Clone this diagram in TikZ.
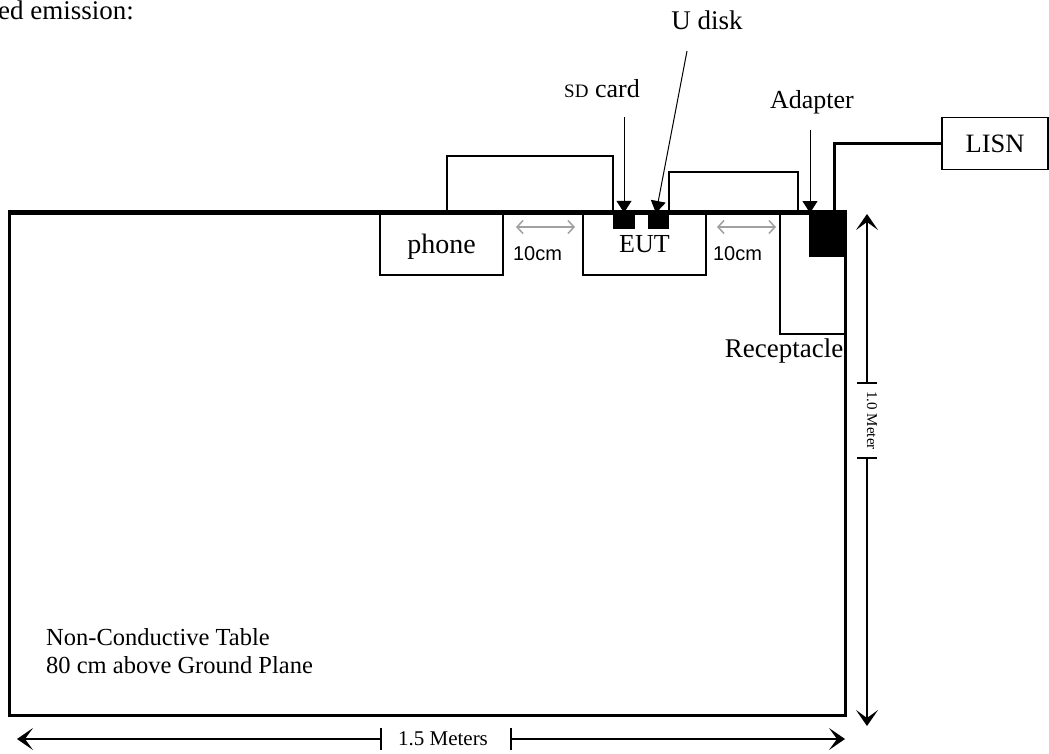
\documentclass[tikz,border=0pt]{standalone}
\usepackage{fontspec}
\setmainfont{Liberation Serif}
\newfontfamily\arialf{Liberation Sans}
\usetikzlibrary{arrows.meta}
\definecolor{gapgray}{HTML}{A0A0A0}
\newcommand{\fsz}[1]{\fontsize{#1}{#1}\selectfont}
\tikzset{
  lbl/.style={inner sep=0pt, font=\fsz{26}},
  box/.style={draw, line width=1.5pt, inner sep=0pt, text depth=0pt, font=\fsz{26}},
  tablebox/.style={draw, line width=3pt, inner sep=0pt},
  blk/.style={fill=black, draw=none, inner sep=0pt},
  cable/.style={line width=1.5pt},
  pcable/.style={line width=3pt},
  ptr/.style={line width=1pt, -{Triangle[length=12pt,width=15pt]}},
  dimline/.style={line width=1.6pt, -{Stealth[length=16pt,width=22pt,inset=8pt]}},
  tick/.style={line width=1.5pt},
  gap/.style={gapgray, line width=1.5pt, {Straight Barb[length=6pt,width=13pt]}-{Straight Barb[length=6pt,width=13pt]}},
  small10/.style={inner sep=0pt, font=\arialf\fsz{20}}
}
\begin{document}
\begin{tikzpicture}[x=1pt,y=-1pt]
\useasboundingbox (0,0) rectangle (1049,753);
% title (cut off at left, as in the reference)
\node[lbl, anchor=base east, font=\fsz{27}] (title) at (134,19) {Conducted emission:};
% table
\node[tablebox, minimum width=836pt, minimum height=502pt] (table) at (427.5,464) {};
% devices
\node[box, minimum width=123pt, minimum height=62pt, font=\fsz{28}] (phone) at (441.5,244) {phone};
\node[box, minimum width=123pt, minimum height=62pt] (eut) at (644.5,244) {EUT};
\node[box, minimum width=66pt, minimum height=121pt] (rec) at (813,273.5) {};
\node[box, minimum width=106pt, minimum height=52pt, font=\fsz{26.5}] (lisn) at (995,143.5) {LISN};
\node[blk, minimum width=22pt, minimum height=16pt] (sd) at (624,221) {};
\node[blk, minimum width=21pt, minimum height=16pt] (ud) at (658.5,221) {};
\node[blk, minimum width=38pt, minimum height=45pt] (adapter) at (827.5,234.5) {};
% cables
\coordinate (c1a) at (447,213);
\coordinate (c1b) at (613,213);
\draw[cable] (c1a) -- (447,156) -- (613,156) -- (c1b);
\coordinate (c2a) at (669,213);
\coordinate (c2b) at (798,213);
\draw[cable] (c2a) -- (669,172) -- (798,172) -- (c2b);
\coordinate (c3a) at (834,212);
\draw[pcable] (c3a) |- (lisn.west);
\draw[line width=3pt] (table.north west) -- (table.north east);
% labels + pointers
\node[lbl, anchor=base] (sdlbl) at (602,97) {{\fsz{19}SD} card};
\node[lbl, anchor=base, font=\fsz{27}] (udlbl) at (707,29) {U disk};
\node[lbl, anchor=base] (adlbl) at (812,108) {Adapter};
\coordinate (sdtop) at (624,117);
\coordinate (udtop) at (687,51);
\coordinate (adtop) at (810,130);
\coordinate (adtip) at (810,213);
\coordinate (udtip) at (656,213);
\draw[ptr] (sdtop) -- (sd.north);
\draw[ptr] (udtop) -- (udtip);
\draw[ptr] (adtop) -- (adtip);
\node[lbl, anchor=base, font=\fsz{27}] (reclbl) at (784,357) {Receptacle};
% 10cm gaps
\coordinate (g1a) at (516,227); \coordinate (g1b) at (575,227);
\coordinate (g2a) at (717,227); \coordinate (g2b) at (776,227);
\draw[gap] (g1a) -- (g1b);
\draw[gap] (g2a) -- (g2b);
\node[small10, anchor=base] (d1) at (537.5,260) {10cm};
\node[small10, anchor=base] (d2) at (737.5,260) {10cm};
% table text
\node[lbl, anchor=base west, font=\fsz{24.5}] (tt1) at (46,645) {Non-Conductive Table};
\node[lbl, anchor=base west, font=\fsz{24.5}] (tt2) at (46,673) {80 cm above Ground Plane};
% vertical dimension
\coordinate (vt1) at (867,383); \coordinate (vt2) at (867,458);
\coordinate (vtop) at (867,214); \coordinate (vbot) at (867,726);
\draw[dimline] (vt1) -- (vtop);
\draw[dimline] (vt2) -- (vbot);
\draw[tick] (857,383) -- (877,383);
\draw[tick] (857,458) -- (877,458);
\node[inner sep=0pt, rotate=-90, font=\fsz{15}] (vlbl) at (872,420.5) {1.0 Meter};
% horizontal dimension
\coordinate (ht1) at (381,739); \coordinate (ht2) at (511,739);
\coordinate (hl) at (17,739); \coordinate (hr) at (845,739);
\draw[dimline] (ht1) -- (hl);
\draw[dimline] (ht2) -- (hr);
\draw[tick] (381,728) -- (381,750);
\draw[tick] (511,728) -- (511,750);
\node[inner sep=0pt, anchor=base, font=\fsz{21}] (hlbl) at (443,745) {1.5 Meters};
\end{tikzpicture}
\end{document}
